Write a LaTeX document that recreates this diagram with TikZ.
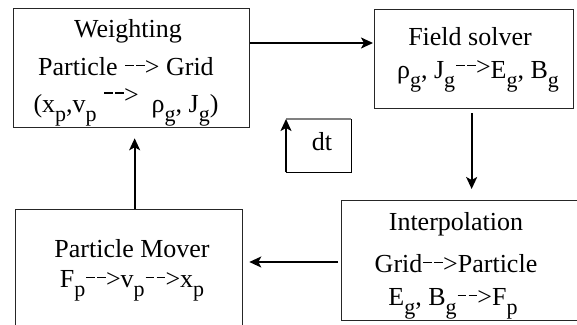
\documentclass[tikz,border=0pt]{standalone}
\usepackage{fontspec}
\setmainfont{Liberation Serif}
\usetikzlibrary{arrows.meta}
\newcommand\sbs[1]{\raisebox{-9pt}{\fontsize{22}{22}\selectfont #1}}
\newcommand\dsh[1][1.2pt]{\rule[9pt]{8.5pt}{#1}}
\newcommand\darr[1][0pt]{\raisebox{#1}{\hspace{1pt}\dsh\hspace{2.5pt}\dsh\hspace{0.3pt}>}}
\newcommand\bdarr[1][0pt]{\raisebox{#1}{\hspace{1pt}\dsh[2pt]\hspace{2.5pt}\dsh[2pt]\hspace{0.3pt}>}}
\begin{document}
\begin{tikzpicture}[x=1pt,y=-1pt,
  font=\fontsize{26}{30}\selectfont,
  box/.style={draw=black!85, line width=1.3pt, rectangle, inner sep=0pt, anchor=north west},
  arr/.style={line width=1.8pt, -{Stealth[length=12pt,width=11pt,inset=3pt]}},
  txt/.style={anchor=base, inner sep=0pt}]
\useasboundingbox (0,0) rectangle (577,324);
% boxes
\node[box, minimum width=236pt, minimum height=119pt] (wgt) at (13,8) {};
\node[box, minimum width=199pt, minimum height=99pt] (fld) at (374,9) {};
\node[box, minimum width=250pt, minimum height=120pt] (itp) at (341,200) {};
\node[box, minimum width=227pt, minimum height=130pt] (mov) at (15,209) {};
\node[inner sep=0pt, minimum width=65pt, minimum height=53pt, anchor=north west] (dtb) at (286,119) {};
% texts
\node[txt] (w1) at (128,37) {Weighting};
\node[txt] (w2) at (126,75) {Particle \darr\ Grid};
\node[txt] (w3) at (126,112) {(x\sbs{p},v\sbs{p} \bdarr[9pt]\ \ ρ\sbs{g}, J\sbs{g})};
\node[txt] (f1) at (470,45) {Field solver};
\node[txt] (f2) at (478,78) {ρ\sbs{g}, J\sbs{g}\darr[3pt]E\sbs{g}, B\sbs{g}};
\node[txt] (i1) at (456,230) {Interpolation};
\node[txt] (i2) at (456,272) {Grid\darr Particle};
\node[txt] (i3) at (453,305) {E\sbs{g}, B\sbs{g}\darr F\sbs{p}};
\node[txt] (m1) at (132,257) {Particle Mover};
\node[txt] (m2) at (132,287) {F\sbs{p}\darr v\sbs{p}\darr x\sbs{p}};
\node[txt] (dtl) at (322,150) {dt};
% dt loop
\draw[black!50, line width=1.3pt] (dtb.north west) -- (dtb.north east);
\draw[line width=1.3pt] (dtb.north east) -- (dtb.south east) -- (dtb.south west);
\draw[arr] (dtb.south west) -- (dtb.north west);
% connectors
\draw[arr, shorten >=1pt] ([yshift=-35pt]wgt.north east) -- ([yshift=-34pt]fld.north west);
\draw[arr, shorten <=4pt, shorten >=11pt] ([xshift=-2.5pt]fld.south) -- ([xshift=5pt]itp.north);
\draw[arr, shorten <=3pt, shorten >=6pt] ([yshift=-62pt]itp.north west) -- ([yshift=-53pt]mov.north east);
\draw[arr, shorten >=10pt] ([xshift=5.5pt]mov.north) -- ([xshift=3pt]wgt.south);
\end{tikzpicture}
\end{document}
